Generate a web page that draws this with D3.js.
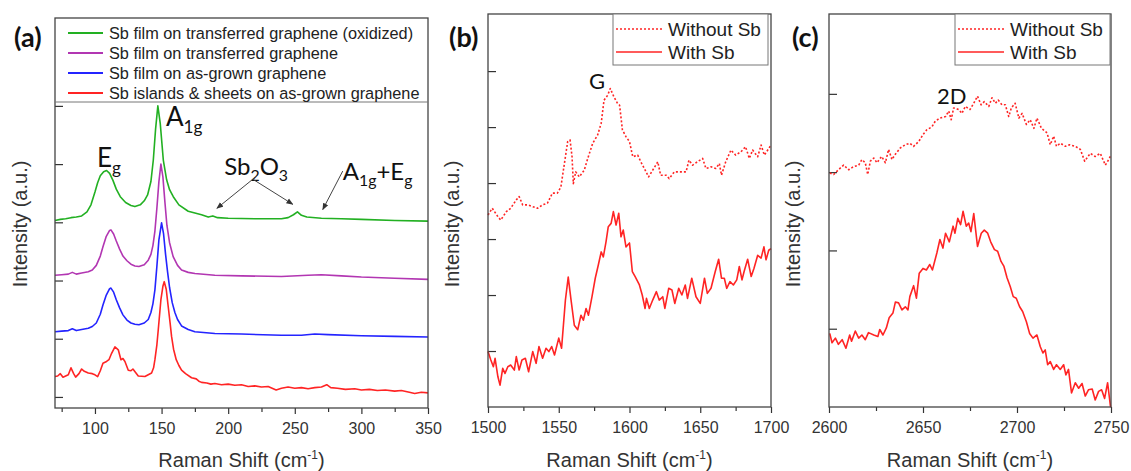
<!DOCTYPE html>
<html>
<head>
<meta charset="utf-8">
<title>Raman spectra</title>
<script src="https://d3js.org/d3.v7.min.js"></script>
<style>
    body { margin: 0; background: #fff; }
    text { font-family: "Liberation Sans", Arial, sans-serif; fill: #333; }
    .tick text { font-size: 16px; fill: #333; }
    .tick line { stroke: #333; stroke-width: 1.2; }
    .axisTitle { font-size: 20px; fill: #333; }
    .legendText { fill: #222; }
    .note { font-family: Lato, sans-serif; fill: #111; }
    .panelLabel { font-family: Lato, sans-serif; font-weight: bold; font-size: 27px; fill: #111; }
</style>
</head>
<body>
<svg id="chart" width="1131" height="471"></svg>
<script>
// ---- panel (a): low wavenumber Sb modes, [Raman shift, intensity] ----
const aXTicks = [100, 150, 200, 250, 300, 350];
const aXMinor = [75, 125, 175, 225, 275, 325];
const aYTicks = [0, 1, 2, 3, 4, 5];
const aLabels = ["Sb film on transferred graphene (oxidized)", "Sb film on transferred graphene",
                 "Sb film on as-grown graphene", "Sb islands & sheets on as-grown graphene"];
const aColors = ["#22b022", "#b236b2", "#2424ff", "#ff2424"];

const oxidized = [[70,3.03],[74,3.05],[78,3.06],[82,3.08],[86,3.09],[90,3.11],[94,3.18],[97,3.30],[100,3.52],
    [102,3.68],[104,3.80],[106.5,3.87],[108.7,3.89],[111,3.84],[113.5,3.72],[116,3.57],[119,3.44],[123,3.34],
    [127,3.29],[130,3.27],[134,3.30],[137,3.37],[139.5,3.47],[142,3.70],[143.8,4.07],[145.5,4.60],[147.2,5.0],
    [149,4.70],[151.3,4.07],[153.8,3.73],[156,3.56],[158.8,3.44],[163,3.30],[170,3.19],[180,3.13],[185,3.09],
    [188.5,3.11],[192,3.08],[200,3.07],[220,3.06],[240,3.06],[245,3.08],[249,3.13],[252,3.18],[255,3.12],
    [259,3.09],[270,3.07],[285,3.06],[300,3.05],[325,3.03],[350,3.02]];
const transferred = [[70,2.09],[75,2.10],[80,2.11],[83,2.14],[86,2.11],[90,2.13],[95,2.15],[98,2.18],[101,2.26],
    [104,2.42],[106,2.58],[108.5,2.76],[111,2.86],[112,2.87],[114,2.80],[116,2.68],[118.5,2.54],[121,2.42],
    [124,2.34],[127,2.28],[130,2.25],[133,2.24],[137,2.27],[140,2.35],[142,2.45],[143.5,2.60],[145,2.85],
    [146.5,3.25],[148,3.70],[149.5,4.0],[151,3.78],[152.5,3.35],[154,2.95],[156,2.65],[158.7,2.41],[162,2.26],
    [165,2.18],[170,2.14],[175,2.12],[190,2.09],[210,2.08],[240,2.07],[260,2.09],[270,2.10],[285,2.08],
    [300,2.06],[325,2.04],[350,2.02]];
const asGrown = [[70,1.12],[75,1.13],[80,1.14],[83,1.17],[86,1.14],[90,1.16],[95,1.18],[98,1.21],[101,1.27],
    [104,1.42],[106,1.58],[108.5,1.75],[111,1.86],[112,1.87],[114,1.80],[116,1.67],[118.5,1.53],[121,1.41],
    [124,1.32],[127,1.27],[130,1.25],[133,1.24],[137,1.27],[140,1.33],[142,1.45],[143.5,1.60],[145,1.84],
    [146.5,2.25],[148,2.70],[150,2.99],[151.5,2.80],[153,2.45],[154.5,2.15],[156,1.88],[158,1.62],[160,1.45],
    [162,1.33],[165,1.22],[170,1.16],[175,1.12],[190,1.09],[210,1.08],[240,1.06],[255,1.06],[265,1.08],
    [275,1.07],[300,1.05],[325,1.04],[350,1.03]];
const islands = [[70,0.35],[72,0.36],[74,0.40],[76,0.34],[78,0.36],[80,0.38],[82,0.50],[84,0.40],[85.5,0.34],
    [88,0.40],[90,0.48],[92,0.44],[95,0.41],[98,0.40],[100,0.38],[102,0.35],[104,0.45],[106,0.58],[108.7,0.61],
    [110.5,0.64],[112.5,0.75],[115,0.86],[117.5,0.81],[119.5,0.64],[121,0.66],[122.5,0.61],[125,0.46],[127,0.45],
    [128.5,0.48],[130.5,0.42],[132.5,0.36],[137.5,0.35],[140,0.38],[142.5,0.41],[144,0.50],[145,0.64],[146.5,0.90],
    [147.5,1.15],[149.5,1.67],[151,1.90],[152,1.98],[153.5,1.85],[155,1.55],[156.5,1.25],[157.5,1.04],[159,0.82],
    [161,0.64],[163,0.54],[165,0.46],[168,0.40],[172.5,0.33],[176,0.31],[178,0.27],[180,0.25],[184,0.24],
    [187,0.22],[190,0.23],[195,0.21],[200,0.22],[205,0.20],[210,0.21],[215,0.18],[220,0.19],[225,0.17],[230,0.18],
    [236,0.12],[240,0.15],[245,0.17],[250,0.15],[255,0.16],[260,0.14],[265,0.16],[270,0.17],[274,0.21],[277,0.16],
    [282,0.15],[288,0.13],[295,0.14],[300,0.12],[306,0.13],[312,0.11],[318,0.12],[325,0.10],[330,0.11],[336,0.08],
    [340,0.06],[345,0.08],[350,0.07]];

// ---- panel (b): graphene G band ----
const bXTicks = [1500, 1550, 1600, 1650, 1700];
const bXMinor = [1525, 1575, 1625, 1675];
const bYTicks = [0, 1, 2, 3, 4, 5];
const gWithout = [[1500,2.43],[1503,2.55],[1507,2.40],[1509,2.34],[1513,2.49],[1516,2.55],[1520,2.70],[1522,2.76],
    [1524.5,2.61],[1528,2.61],[1531.5,2.58],[1535,2.55],[1538.5,2.61],[1542,2.64],[1545.5,2.82],[1549,2.82],
    [1551.5,2.93],[1554,3.35],[1556.3,3.74],[1558,3.77],[1559.4,3.47],[1560.3,2.99],[1562,3.20],[1564.5,3.11],
    [1568,3.23],[1570.5,3.44],[1574,3.71],[1577.5,3.86],[1580,4.07],[1582,4.48],[1584.6,4.57],[1586.4,4.69],
    [1589,4.54],[1591.6,4.42],[1593,4.39],[1595,3.95],[1597.5,3.83],[1600,3.74],[1602.3,3.47],[1605.8,3.50],
    [1608,3.38],[1610.5,3.26],[1613.5,3.11],[1616.4,3.23],[1620,3.38],[1622,3.14],[1626,3.14],[1628,3.08],
    [1631.7,3.20],[1635,3.20],[1640,3.20],[1642,3.41],[1644.6,3.32],[1648,3.38],[1651.7,3.44],[1654,3.26],
    [1657.6,3.29],[1661,3.26],[1663.5,3.35],[1665,3.14],[1668,3.38],[1671.7,3.59],[1675,3.50],[1678.8,3.56],
    [1682,3.65],[1684.7,3.44],[1687,3.59],[1690.6,3.47],[1693,3.68],[1695.3,3.50],[1697.7,3.59],[1700,3.68]];
const gWith = [[1500,-0.01],[1502,-0.16],[1503.8,-0.28],[1505,-0.13],[1507,-0.46],[1508.5,-0.61],[1510.4,-0.31],
    [1512,-0.40],[1514,-0.28],[1516,-0.25],[1518.6,-0.34],[1520,-0.10],[1522,-0.34],[1524,-0.16],[1526.4,-0.13],
    [1528.7,-0.37],[1531.6,-0.01],[1534,-0.22],[1536,0.08],[1538.6,-0.13],[1541,0.05],[1543,-0.01],[1545,0.08],
    [1547,-0.07],[1550,0.23],[1552,0.05],[1554.7,0.91],[1556.7,1.32],[1558.7,0.91],[1561,0.46],[1563.4,0.38],
    [1565.7,0.64],[1567.4,0.55],[1569.3,0.76],[1571,0.64],[1573.5,0.97],[1575.8,1.30],[1578,1.54],[1580,1.77],
    [1581.5,1.68],[1583.4,1.95],[1585,2.22],[1587,2.28],[1588.6,2.49],[1590.5,2.25],[1592.4,2.46],[1594,2.04],
    [1595.6,2.16],[1597.5,1.86],[1600,1.93],[1602,1.42],[1604,1.33],[1607,1.18],[1609,1.00],[1611,0.76],
    [1612,0.94],[1614,0.76],[1616.4,0.91],[1619,1.06],[1621,0.91],[1623.5,0.97],[1625,0.76],[1627.7,1.12],
    [1630,1.09],[1632,0.85],[1634.8,1.12],[1637,1.00],[1639.4,1.18],[1641,0.94],[1644,1.30],[1647,0.97],
    [1650,0.85],[1653,1.30],[1655,1.03],[1657.6,1.12],[1660.6,1.42],[1663,1.64],[1665,1.30],[1667,1.30],
    [1668.7,1.12],[1671,1.24],[1673.4,1.18],[1675.8,1.27],[1677.6,1.51],[1679.5,1.27],[1681,1.42],[1683.5,1.64],
    [1686,1.33],[1688,1.48],[1690.6,1.71],[1693,1.66],[1695,1.86],[1696.5,1.63],[1698.4,1.80],[1700,1.83]];

// ---- panel (c): graphene 2D band ----
const cXTicks = [2600, 2650, 2700, 2750];
const cXMinor = [2625, 2675, 2725];
const cYTicks = [0, 1, 2, 3];
const dWithout = [[2600.4,1.99],[2602.5,1.97],[2605,2.03],[2607.8,2.09],[2610.5,2.03],[2613,2.07],[2615.8,2.09],
    [2617.5,2.16],[2619.3,2.12],[2620.6,1.97],[2622,2.14],[2623.8,2.18],[2625.5,2.12],[2628,2.20],[2630,2.12],
    [2631.7,2.29],[2633.5,2.16],[2635,2.22],[2638,2.31],[2640.6,2.35],[2643,2.37],[2645,2.33],[2647.7,2.39],
    [2650,2.48],[2652,2.54],[2654.8,2.58],[2656.5,2.65],[2659,2.69],[2662,2.71],[2663.7,2.78],[2665,2.67],
    [2666.3,2.82],[2669,2.80],[2670.7,2.75],[2672.5,2.84],[2675,2.80],[2677,2.88],[2679,2.97],[2680.9,2.86],
    [2682.6,2.90],[2685,2.84],[2686.7,2.95],[2688.5,2.88],[2690,2.92],[2692,2.86],[2693.8,2.86],[2695.6,2.71],
    [2697,2.82],[2699,2.88],[2701,2.69],[2702.7,2.75],[2705,2.61],[2707,2.67],[2709,2.56],[2710.6,2.69],
    [2713,2.56],[2716,2.50],[2717.7,2.35],[2719.5,2.46],[2721,2.33],[2723,2.37],[2725.7,2.33],[2728,2.35],
    [2731,2.33],[2733.7,2.29],[2736,2.14],[2739,2.24],[2741.6,2.20],[2744.3,2.24],[2747,2.09],[2748.8,2.16],
    [2750,2.22]];
const dWith = [[2600.4,-0.06],[2601.6,-0.18],[2603.4,-0.12],[2605,-0.20],[2607,-0.14],[2609,-0.25],[2611,-0.08],
    [2612,-0.16],[2614,-0.03],[2615.8,-0.12],[2617.5,-0.08],[2619.3,-0.14],[2621,-0.05],[2623.8,-0.08],[2626,-0.10],
    [2627,-0.01],[2628.7,-0.08],[2630.5,0.01],[2632,0.14],[2634,0.20],[2635.3,0.34],[2637,0.33],[2638.8,0.24],
    [2640.6,0.28],[2642,0.24],[2643,0.41],[2645,0.55],[2646.5,0.39],[2648,0.71],[2650,0.77],[2651.8,0.75],
    [2653.6,0.82],[2655,0.75],[2657.4,0.97],[2659,1.14],[2660.6,1.03],[2662,1.22],[2664,1.11],[2666,1.31],
    [2667,1.22],[2668.5,1.41],[2670,1.33],[2671.3,1.50],[2673,1.31],[2674.3,1.35],[2675.5,1.24],[2677,1.47],
    [2679,1.05],[2681,1.22],[2682.6,1.26],[2684.4,1.22],[2686,1.11],[2688,1.01],[2689.7,0.99],[2691.5,0.86],
    [2693,0.80],[2694.7,0.65],[2696.4,0.54],[2698,0.41],[2699.6,0.39],[2701.4,0.28],[2703,0.22],[2705,0.09],
    [2706.7,-0.06],[2708.5,-0.12],[2710.6,-0.08],[2712.4,-0.23],[2713.8,-0.31],[2715,-0.27],[2716.3,-0.46],
    [2717.7,-0.42],[2719.5,-0.52],[2721,-0.46],[2723,-0.52],[2724.8,-0.46],[2726,-0.59],[2727.4,-0.52],
    [2729,-0.82],[2731,-0.69],[2732.8,-0.76],[2734.6,-0.70],[2736.3,-0.86],[2738,-0.78],[2740,-0.77],
    [2741.6,-0.91],[2743.4,-0.80],[2745,-0.78],[2746.6,-0.89],[2748.2,-0.69],[2749.7,-0.99],[2750,-1.0]];

const bcLabels = ["Without Sb", "With Sb"];

const svg = d3.select("#chart");

svg.append("defs").append("marker")
   .attr("id", "arrow")
   .attr("viewBox", "0 0 10 10")
   .attr("refX", 9).attr("refY", 5)
   .attr("markerWidth", 7).attr("markerHeight", 7)
   .attr("orient", "auto-start-reverse")
   .append("path")
   .attr("d", "M0,1 L10,5 L0,9 z")
   .attr("fill", "#333");

// Builds the frame, ticks and scales for one panel
function drawPanel(p) {
    const g = svg.append("g");
    const x = d3.scaleLinear().domain(p.xDomain).range([p.left, p.right]);
    const y = d3.scaleLinear().domain(p.yDomain).range([p.bottom, p.top]);

    g.append("g")
     .attr("transform", `translate(0,${p.bottom})`)
     .call(d3.axisBottom(x).tickValues(p.xMinor).tickSize(4).tickFormat(""));
    g.append("g")
     .attr("transform", `translate(0,${p.bottom})`)
     .call(d3.axisBottom(x).tickValues(p.xTicks).tickSize(6).tickPadding(9).tickFormat(d3.format("d")));
    g.append("g")
     .attr("transform", `translate(${p.left},0)`)
     .call(d3.axisLeft(y).tickValues(p.yTicks).tickSize(-8).tickFormat(""));
    g.selectAll(".domain").remove();

    const lines = g.append("g");

    g.append("rect")
     .attr("x", p.left).attr("y", p.top)
     .attr("width", p.right - p.left).attr("height", p.bottom - p.top)
     .attr("fill", "none").attr("stroke", "#444").attr("stroke-width", 1.3);

    // axis titles
    const xt = g.append("text").attr("class", "axisTitle")
                .attr("x", (p.left + p.right) / 2).attr("y", 467)
                .attr("text-anchor", "middle");
    xt.append("tspan").text("Raman Shift (cm");
    xt.append("tspan").attr("font-size", 12).attr("dy", -8).text("-1");
    xt.append("tspan").attr("dy", 8).text(")");

    g.append("text").attr("class", "axisTitle")
     .attr("transform", `translate(${p.titleX},224) rotate(-90)`)
     .attr("text-anchor", "middle")
     .text("Intensity (a.u.)");

    g.append("text").attr("class", "panelLabel")
     .attr("x", p.labelX).attr("y", 47).text(p.label);

    return { x, y, g, lines };
}

function plotLine(panel, data, color, dashed) {
    const line = d3.line().x(d => panel.x(d[0])).y(d => panel.y(d[1]));
    panel.lines.append("path")
         .datum(data)
         .attr("d", line)
         .attr("fill", "none")
         .attr("stroke", color)
         .attr("stroke-width", 1.6)
         .attr("stroke-linejoin", "round")
         .attr("stroke-dasharray", dashed ? "2,2" : null);
}

// text with subscripts: parts = [[text, isSub], ...]
function note(panel, xv, yv, size, parts) {
    const t = panel.g.append("text").attr("class", "note")
                .attr("x", panel.x(xv)).attr("y", panel.y(yv))
                .attr("font-size", size);
    let shifted = false;
    parts.forEach(([s, sub]) => {
        const ts = t.append("tspan").text(s);
        if (sub && !shifted) { ts.attr("font-size", size * 0.66).attr("dy", size * 0.25); shifted = true; }
        else if (sub) { ts.attr("font-size", size * 0.66); }
        else if (shifted) { ts.attr("dy", -size * 0.25); shifted = false; }
    });
}

function arrow(panel, x1, y1, x2, y2) {
    panel.g.append("line")
         .attr("x1", panel.x(x1)).attr("y1", panel.y(y1))
         .attr("x2", panel.x(x2)).attr("y2", panel.y(y2))
         .attr("stroke", "#444").attr("stroke-width", 1)
         .attr("marker-end", "url(#arrow)");
}

// ---------- panel (a) ----------
const pa = drawPanel({ xDomain: [70, 350], yDomain: [-0.19, 6.51], left: 55, right: 428, top: 18, bottom: 408,
                       xTicks: aXTicks, xMinor: aXMinor, yTicks: aYTicks, titleX: 27, label: "(a)", labelX: 14 });
[oxidized, transferred, asGrown, islands].forEach((s, i) => plotLine(pa, s, aColors[i], false));

pa.g.append("line").attr("x1", 55).attr("x2", 428).attr("y1", 102).attr("y2", 102)
    .attr("stroke", "#777").attr("stroke-width", 1);
aLabels.forEach((lab, i) => {
    const ly = 33 + i * 20;
    pa.g.append("line").attr("x1", 68).attr("x2", 103).attr("y1", ly).attr("y2", ly)
        .attr("stroke", aColors[i]).attr("stroke-width", 2);
    pa.g.append("text").attr("class", "legendText").attr("x", 109).attr("y", ly)
        .attr("dy", "0.35em").attr("font-size", 16.3).text(lab);
});

note(pa, 101.5, 3.95, 26, [["E", false], ["g", true]]);
note(pa, 153.3, 4.65, 26, [["A", false], ["1g", true]]);
note(pa, 197, 3.81, 24, [["Sb", false], ["2", true], ["O", false], ["3", true]]);
note(pa, 286, 3.73, 24, [["A", false], ["1g", true], ["+E", false], ["g", true]]);
arrow(pa, 218.5, 3.74, 191.5, 3.24);
arrow(pa, 218.5, 3.74, 248.5, 3.31);
arrow(pa, 286, 3.88, 271, 3.22);

// ---------- panel (b) ----------
const pb = drawPanel({ xDomain: [1500, 1700], yDomain: [-1.0, 6.02], left: 488, right: 771, top: 14, bottom: 407,
                       xTicks: bXTicks, xMinor: bXMinor, yTicks: bYTicks, titleX: 459, label: "(b)", labelX: 449 });
plotLine(pb, gWithout, "#ff2424", true);
plotLine(pb, gWith, "#ff2424", false);
note(pb, 1571.4, 4.68, 22, [["G", false]]);

// ---------- panel (c) ----------
const pc = drawPanel({ xDomain: [2600, 2750], yDomain: [-1.0, 4.02], left: 829, right: 1111, top: 14, bottom: 407,
                       xTicks: cXTicks, xMinor: cXMinor, yTicks: cYTicks, titleX: 800, label: "(c)", labelX: 792 });
plotLine(pc, dWithout, "#ff2424", true);
plotLine(pc, dWith, "#ff2424", false);
note(pc, 2657.4, 2.87, 22, [["2D", false]]);

// legends for (b) and (c)
[[pb, 613], [pc, 955]].forEach(([panel, lx]) => {
    panel.g.append("rect").attr("x", lx).attr("y", 14).attr("width", 155).attr("height", 51)
         .attr("fill", "#fff").attr("stroke", "#777").attr("stroke-width", 1);
    bcLabels.forEach((lab, i) => {
        const ly = 29 + i * 23;
        panel.g.append("line").attr("x1", lx + 3).attr("x2", lx + 49).attr("y1", ly).attr("y2", ly)
             .attr("stroke", "#ff2424").attr("stroke-width", 1.6)
             .attr("stroke-dasharray", i === 0 ? "2,2" : null);
        panel.g.append("text").attr("class", "legendText").attr("x", lx + 55).attr("y", ly)
             .attr("dy", "0.35em").attr("font-size", 19).text(lab);
    });
});
</script>
</body>
</html>
